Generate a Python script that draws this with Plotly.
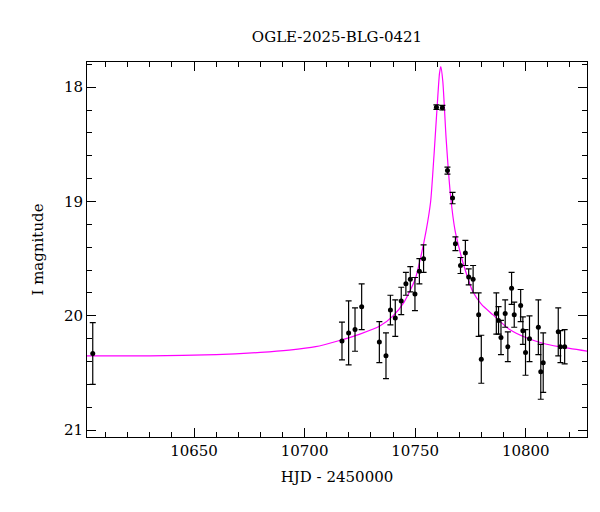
import plotly.graph_objects as go

# photometry (HJD - 2450000, I mag, error)
hjd = [10604.2, 10716.9, 10719.9, 10722.8, 10725.8, 10733.8, 10736.8, 10738.8, 10741.0,
       10743.7, 10745.8, 10747.8, 10749.9, 10751.9, 10753.8, 10759.6, 10762.3, 10764.6,
       10766.9, 10768.2, 10770.5, 10772.7, 10774.2, 10776.2, 10778.7, 10779.9, 10786.7,
       10787.7, 10788.8, 10790.7, 10791.9, 10793.6, 10794.8, 10797.7, 10798.7, 10799.9,
       10801.7, 10805.7, 10806.8, 10807.9, 10814.7, 10815.7, 10817.6]
mag = [20.33, 20.22, 20.15, 20.12, 19.92, 20.23, 20.35, 19.95, 20.02,
       19.87, 19.72, 19.68, 19.81, 19.61, 19.50, 18.175, 18.18, 18.73,
       18.97, 19.37, 19.56, 19.45, 19.66, 19.68, 19.99, 20.38, 19.98,
       20.04, 20.19, 19.98, 20.27, 19.76, 19.99, 19.91, 20.13, 20.32,
       20.20, 20.10, 20.49, 20.41, 20.14, 20.27, 20.27]
err = [0.27, 0.165, 0.28, 0.19, 0.20, 0.18, 0.20, 0.13, 0.16,
       0.12, 0.10, 0.11, 0.145, 0.11, 0.12, 0.02, 0.02, 0.03,
       0.05, 0.06, 0.07, 0.11, 0.07, 0.12, 0.19, 0.21, 0.18,
       0.12, 0.15, 0.12, 0.13, 0.14, 0.11, 0.14, 0.12, 0.20,
       0.20, 0.24, 0.24, 0.26, 0.21, 0.14, 0.15]

# model curve
model_t = [10601, 10630, 10660, 10680, 10693, 10705, 10715, 10725, 10734, 10740, 10745,
           10750, 10752, 10755, 10757, 10758.5, 10760, 10761, 10761.6, 10762.5, 10764,
           10766, 10768, 10770.3, 10772, 10776.1, 10780, 10785.1, 10792.7, 10800, 10807.7,
           10815, 10828]
model_m = [20.35, 20.35, 20.34, 20.32, 20.30, 20.27, 20.22, 20.16, 20.09, 20.00, 19.88,
           19.68, 19.53, 19.25, 19.0, 18.6, 18.15, 17.88, 17.82, 17.95, 18.45,
           18.95, 19.25, 19.44, 19.56, 19.79, 19.90, 19.99, 20.12, 20.19, 20.24,
           20.27, 20.31]

fig = go.Figure()
fig.add_trace(go.Scatter(x=model_t, y=model_m, mode='lines',
                         line=dict(color='magenta', width=1.2, shape='spline', smoothing=0.6),
                         showlegend=False))
fig.add_trace(go.Scatter(x=hjd, y=mag, mode='markers',
                         marker=dict(color='black', size=5),
                         error_y=dict(type='data', array=err, color='black', thickness=1.2, width=3),
                         showlegend=False))

font = dict(family='DejaVu Serif', size=15, color='black')
axis_common = dict(showgrid=False, zeroline=False, mirror='allticks', ticks='inside',
                   showline=True, linecolor='black', linewidth=1, ticklen=9, tickcolor='black',
                   tickfont=font)
fig.update_layout(
    width=600, height=512,
    plot_bgcolor='white', paper_bgcolor='white',
    title=dict(text='OGLE-2025-BLG-0421', x=0.5, xref='paper', y=0.955, xanchor='center', font=font),
    margin=dict(l=79, r=21, t=54, b=83),
    font=font,
    xaxis=dict(axis_common, range=[10601.6, 10827.7], dtick=50, tick0=10650, tickformat='d',
               minor=dict(dtick=10, ticks='inside', ticklen=5, tickcolor='black'),
               title=dict(text='HJD - 2450000', font=font, standoff=12)),
    yaxis=dict(axis_common, range=[21.06, 17.78], dtick=1, tick0=18, tickformat='d',
               minor=dict(dtick=0.2, ticks='inside', ticklen=5, tickcolor='black'),
               title=dict(text='I magnitude', font=font, standoff=16)),
)
fig.write_html("out.html")
